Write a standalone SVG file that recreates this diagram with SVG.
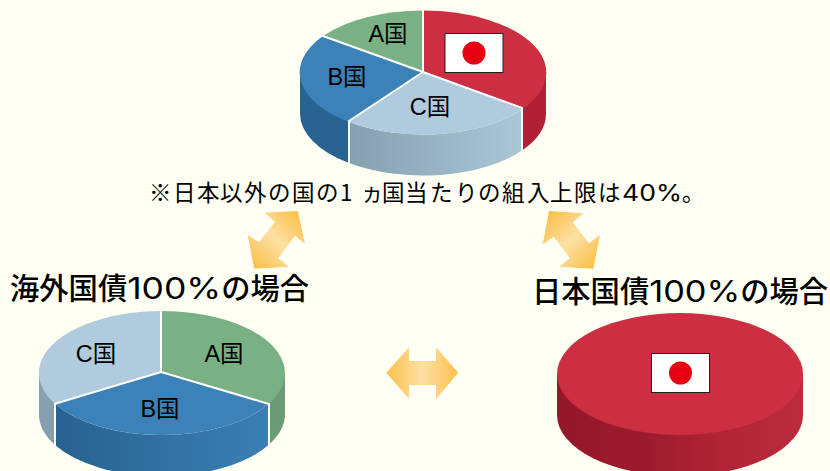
<svg xmlns="http://www.w3.org/2000/svg" width="830" height="471" viewBox="0 0 830 471">
<style>
text{font-family:"Noto Sans CJK JP","Liberation Sans",sans-serif;fill:#000}
.l{font-size:23.500px;text-anchor:middle;font-family:"Liberation Sans","Noto Sans CJK JP",sans-serif}
.h{font-size:29.300px;font-weight:500}
.d{font-family:"Inter","Noto Sans CJK JP",sans-serif;font-weight:400}
.s{stroke:#fff;stroke-width:2;fill:none;stroke-linecap:round}
</style>
<defs>
<linearGradient id="red" x1="0" x2="1" y1="0" y2="0"><stop offset="0" stop-color="#94182a"/><stop offset=".35" stop-color="#9a1b2c"/><stop offset=".65" stop-color="#b02435"/><stop offset="1" stop-color="#bb2b3d"/></linearGradient>
<linearGradient id="blue" x1="0" x2="1" y1="0" y2="0"><stop offset="0" stop-color="#28628f"/><stop offset="1" stop-color="#3a7fb5"/></linearGradient>
<linearGradient id="pale" x1="0" x2="1" y1="0" y2="0"><stop offset="0" stop-color="#86a0b0"/><stop offset="1" stop-color="#abc6d6"/></linearGradient>
<linearGradient id="arrH" x1="0" x2="1" y1="0" y2="0"><stop offset="0" stop-color="#fbc04a"/><stop offset=".5" stop-color="#fde0a4"/><stop offset="1" stop-color="#fbc04a"/></linearGradient>
<linearGradient id="arrU" x1="0" x2="1" y1="1" y2="0"><stop offset=".08" stop-color="#fbc04a"/><stop offset=".5" stop-color="#fde0a4"/><stop offset=".92" stop-color="#fbc04a"/></linearGradient>
<linearGradient id="arrD" x1="0" x2="1" y1="0" y2="1"><stop offset=".08" stop-color="#fbc04a"/><stop offset=".5" stop-color="#fde0a4"/><stop offset=".92" stop-color="#fbc04a"/></linearGradient>
<g id="flag"><rect x="-29" y="-19.500" width="58" height="39" fill="#fff" stroke="#222" stroke-width="1"/><circle r="11.500" fill="#e60012"/></g>
</defs>
<rect width="830" height="471" fill="#fffff3"/>
<g id="pie-top">
<path d="M546 72.500V113.500A123 62 0 0 1 522 150.500V109.500Z" fill="#b12034"/>
<path d="M349 122V163A123 62 0 0 1 300 113.500V72.500Z" fill="#28628f"/>
<path d="M349 122A123 62 0 0 0 522 109.500V150.500A123 62 0 0 1 349 163Z" fill="url(#pale)"/>
<path d="M423 72L423 10.500A123 62 0 0 1 522 109.500Z" fill="#cc2e42"/>
<path d="M423 72L522 109.500A123 62 0 0 1 349 122Z" fill="#afcbdd"/>
<path d="M423 72L349 122A123 62 0 0 1 323 36Z" fill="#3c82b8"/>
<path d="M423 72L323 36A123 62 0 0 1 423 10.500Z" fill="#7ab184"/>
<path class="s" d="M423 10.500V72L522 108V150M423 72L349 121V163M423 72L323 36"/>
<use href="#flag" x="474" y="53"/>
<text class="l" x="388" y="42">A国</text><text class="l" x="347" y="85">B国</text><text class="l" x="430" y="115">C国</text>
</g>
<text id="note" style="font-size:22.500px" y="201" x="149 173 197 220 244 268 292 316 340 361 382 405 430 455 478 502 527 550 574 598">※日本以外の国の1ヵ国当たりの組入上限は<tspan class="d" x="622" textLength="60" lengthAdjust="spacingAndGlyphs">40%</tspan><tspan x="682">。</tspan></text>
<g id="connectors">
<polygon fill="url(#arrU)" points="297.700,211 305,244 295,235.700 278.300,258.300 289,266.700 254.300,268.700 247.700,235 259,242.300 275,221.700 264.300,212.700"/>
<polygon fill="url(#arrD)" points="549,211 583.300,213.300 572.700,222.300 589,243.300 600,235 593.300,268.700 559,266.700 570,258.300 554,236.700 542.700,244.300"/>
<polygon fill="url(#arrH)" points="386.300,372.700 409,347.300 409,361 436,361 436,347.300 458.300,372.700 436,399 436,385 409,385 409,399"/>
</g>
<text id="title-left" class="h" x="10" y="299">海外国債<tspan class="d" textLength="94" lengthAdjust="spacingAndGlyphs">100%</tspan>の場合</text>
<text id="title-right" class="h" x="532" y="302">日本国債<tspan class="d" textLength="91" lengthAdjust="spacingAndGlyphs">100%</tspan>の場合</text>
<g id="pie-left">
<path d="M285 373V414A123 62 0 0 1 269 444.500V403.500Z" fill="#6a9b76"/>
<path d="M55 403.700V445A123 62 0 0 1 39 414V373Z" fill="#86a0b0"/>
<path d="M55 403.700A123 62 0 0 0 269 403.500V444.500A123 62 0 0 1 55 445Z" fill="url(#blue)"/>
<path d="M161 372V311A123 62 0 0 1 269 403.500Z" fill="#7ab184"/>
<path d="M161 372L269 403.500A123 62 0 0 1 55 403.700Z" fill="#3c82b8"/>
<path d="M161 372L55 403.700A123 62 0 0 1 161 311Z" fill="#afcbdd"/>
<path class="s" d="M161 311V372L269 404V445M161 372L55 403.700V446"/>
<text class="l" x="224" y="362">A国</text><text class="l" x="160" y="417">B国</text><text class="l" x="96" y="362">C国</text>
</g>
<g id="pie-right">
<path d="M557 374V415A123 61 0 0 0 803 415V374Z" fill="url(#red)"/>
<ellipse cx="680" cy="374" rx="123" ry="61" fill="#cc2e42"/>
<use href="#flag" x="680.500" y="373"/>
</g>
</svg>
